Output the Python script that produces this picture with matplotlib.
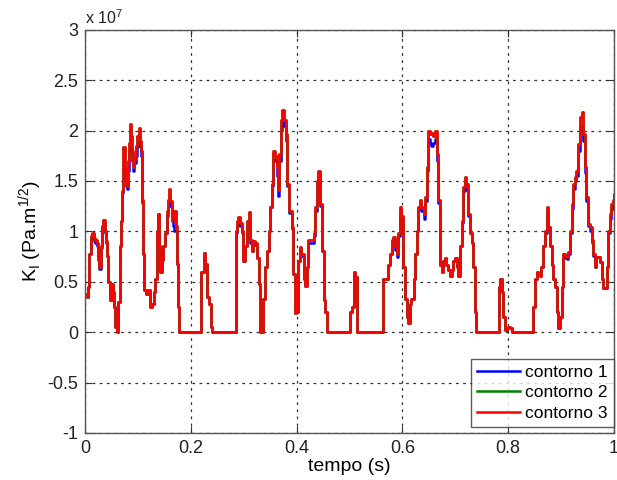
import matplotlib
matplotlib.use("Agg")
import matplotlib.pyplot as plt
from matplotlib.ticker import FuncFormatter, MultipleLocator

# time (s)
t = [0.000, 0.003, 0.006, 0.008, 0.011, 0.013, 0.016, 0.019, 0.022, 0.025,
     0.027, 0.030, 0.032, 0.034, 0.037, 0.039, 0.041, 0.044, 0.047, 0.050,
     0.052, 0.054, 0.057, 0.060, 0.063, 0.065, 0.067, 0.069, 0.071, 0.072,
     0.075, 0.077, 0.079, 0.081, 0.083, 0.085, 0.087, 0.089, 0.091, 0.093,
     0.096, 0.099, 0.102, 0.104, 0.106, 0.107, 0.109, 0.112, 0.116, 0.119,
     0.123, 0.127, 0.130, 0.132, 0.135, 0.137, 0.139, 0.142, 0.145, 0.148,
     0.151, 0.154, 0.156, 0.158, 0.161, 0.164, 0.166, 0.168, 0.171, 0.173,
     0.175, 0.178, 0.217, 0.220, 0.224, 0.227, 0.231, 0.235, 0.238, 0.240,
     0.284, 0.285, 0.288, 0.290, 0.293, 0.296, 0.299, 0.302, 0.306, 0.309,
     0.312, 0.315, 0.318, 0.321, 0.325, 0.328, 0.331, 0.334, 0.337, 0.340,
     0.343, 0.347, 0.350, 0.353, 0.356, 0.359, 0.362, 0.365, 0.367, 0.370,
     0.373, 0.376, 0.379, 0.382, 0.385, 0.391, 0.394, 0.397, 0.399, 0.401,
     0.403, 0.406, 0.409, 0.413, 0.416, 0.419, 0.422, 0.428, 0.432, 0.435,
     0.438, 0.441, 0.444, 0.447, 0.451, 0.454, 0.457, 0.498, 0.501, 0.505,
     0.508, 0.511, 0.514, 0.561, 0.564, 0.570, 0.573, 0.577, 0.580, 0.583,
     0.586, 0.589, 0.592, 0.595, 0.598, 0.602, 0.605, 0.608, 0.611, 0.614,
     0.617, 0.621, 0.624, 0.627, 0.630, 0.633, 0.636, 0.640, 0.643, 0.646,
     0.649, 0.652, 0.655, 0.658, 0.661, 0.665, 0.668, 0.671, 0.674, 0.677,
     0.680, 0.683, 0.686, 0.690, 0.693, 0.696, 0.699, 0.703, 0.706, 0.709,
     0.712, 0.715, 0.718, 0.721, 0.724, 0.728, 0.731, 0.734, 0.737, 0.740,
     0.780, 0.782, 0.785, 0.788, 0.791, 0.794, 0.797, 0.800, 0.803, 0.807,
     0.844, 0.847, 0.850, 0.854, 0.857, 0.860, 0.863, 0.866, 0.869, 0.873,
     0.876, 0.879, 0.882, 0.885, 0.889, 0.892, 0.895, 0.898, 0.901, 0.904,
     0.908, 0.911, 0.914, 0.917, 0.920, 0.923, 0.926, 0.929, 0.932, 0.936,
     0.939, 0.942, 0.945, 0.948, 0.951, 0.955, 0.958, 0.961, 0.964, 0.967,
     0.971, 0.974, 0.977, 0.980, 0.983, 0.986, 0.989, 0.992, 0.995, 0.998, 1.000]

# K_I in units of 1e7 Pa.m^1/2
k_c3 = [0.38, 0.35, 0.45, 0.78, 0.95, 0.98, 0.93, 0.91, 0.88, 0.75,
        0.65, 0.85, 1.05, 1.11, 1.00, 0.90, 0.76, 0.50, 0.32, 0.48,
        0.40, 0.25, 0.05, 0.00, 0.30, 0.85, 1.10, 1.40, 1.67, 1.84,
        1.62, 1.50, 1.45, 1.70, 1.88, 2.07, 1.95, 1.80, 1.64, 1.72,
        1.85, 1.95, 2.03, 1.90, 1.80, 1.31, 0.78, 0.42, 0.38, 0.42,
        0.25, 0.28, 0.40, 0.53, 1.00, 1.17, 0.85, 0.60, 0.72, 0.85,
        0.98, 1.20, 1.31, 1.42, 1.30, 1.15, 1.10, 1.20, 1.05, 0.68,
        0.25, 0.00, 0.00, 0.60, 0.79, 0.68, 0.35, 0.28, 0.05, 0.00,
        0.00, 1.00, 1.10, 1.14, 1.08, 1.00, 0.71, 0.85, 1.10, 1.19,
        0.91, 0.81, 0.90, 0.88, 0.74, 0.48, 0.00, 0.00, 0.33, 0.65,
        0.81, 1.00, 1.24, 1.47, 1.80, 1.75, 1.64, 1.41, 1.77, 2.10,
        2.20, 2.10, 1.97, 1.47, 1.20, 1.04, 0.58, 0.19, 0.53, 0.20,
        0.71, 0.84, 0.78, 0.53, 0.46, 0.65, 0.91, 0.91, 0.98, 1.24,
        1.50, 1.60, 1.27, 0.81, 0.32, 0.20, 0.00, 0.00, 0.20, 0.25,
        0.60, 0.55, 0.00, 0.00, 0.53, 0.53, 0.67, 0.78, 0.91, 0.94,
        0.85, 0.78, 0.98, 1.24, 1.15, 0.65, 0.33, 0.15, 0.09, 0.28,
        0.33, 0.53, 0.78, 1.00, 1.24, 1.31, 1.24, 1.17, 1.34, 1.64,
        2.00, 1.97, 1.98, 1.95, 2.00, 1.77, 1.31, 0.67, 0.60, 0.71,
        0.74, 0.67, 0.62, 0.56, 0.62, 0.71, 0.74, 0.65, 0.56, 0.85,
        1.10, 1.44, 1.54, 1.47, 1.17, 0.98, 0.88, 0.65, 0.20, 0.00,
        0.00, 0.45, 0.53, 0.40, 0.15, 0.02, 0.04, 0.05, 0.04, 0.00,
        0.00, 0.25, 0.53, 0.60, 0.58, 0.56, 0.65, 0.85, 1.00, 1.24,
        1.04, 0.85, 0.67, 0.53, 0.45, 0.20, 0.04, 0.15, 0.45, 0.78,
        0.76, 0.75, 0.80, 1.00, 1.27, 1.47, 1.54, 1.60, 1.87, 2.13,
        2.18, 1.97, 1.64, 1.34, 1.07, 1.04, 0.91, 0.78, 0.65, 0.75,
        0.75, 0.70, 0.53, 0.44, 0.44, 0.65, 1.00, 1.17, 1.27, 1.31, 1.37]

k_c1 = [0.38, 0.35, 0.45, 0.78, 0.93, 0.95, 0.90, 0.88, 0.85, 0.72,
        0.63, 0.83, 1.02, 1.08, 0.98, 0.88, 0.76, 0.50, 0.32, 0.48,
        0.40, 0.25, 0.05, 0.00, 0.30, 0.85, 1.10, 1.38, 1.40, 1.62,
        1.55, 1.45, 1.42, 1.60, 1.80, 1.84, 1.80, 1.70, 1.60, 1.68,
        1.75, 1.85, 1.90, 1.85, 1.75, 1.28, 0.78, 0.42, 0.38, 0.42,
        0.25, 0.28, 0.40, 0.53, 1.00, 1.17, 0.85, 0.60, 0.72, 0.85,
        0.98, 1.15, 1.25, 1.32, 1.25, 1.10, 1.05, 1.00, 1.00, 0.68,
        0.25, 0.00, 0.00, 0.60, 0.79, 0.68, 0.35, 0.28, 0.05, 0.00,
        0.00, 0.98, 1.05, 1.08, 1.05, 0.98, 0.71, 0.85, 1.05, 1.12,
        0.88, 0.81, 0.88, 0.86, 0.74, 0.48, 0.00, 0.00, 0.33, 0.65,
        0.81, 1.00, 1.24, 1.45, 1.72, 1.70, 1.55, 1.35, 1.70, 2.00,
        2.10, 2.05, 1.90, 1.45, 1.18, 1.02, 0.58, 0.19, 0.53, 0.20,
        0.71, 0.82, 0.76, 0.53, 0.46, 0.65, 0.88, 0.88, 0.95, 1.20,
        1.45, 1.55, 1.25, 0.81, 0.32, 0.20, 0.00, 0.00, 0.20, 0.25,
        0.60, 0.55, 0.00, 0.00, 0.53, 0.53, 0.67, 0.78, 0.90, 0.92,
        0.82, 0.75, 0.95, 1.18, 1.10, 0.65, 0.33, 0.15, 0.09, 0.28,
        0.33, 0.53, 0.78, 1.00, 1.22, 1.28, 1.20, 1.12, 1.30, 1.60,
        1.92, 1.88, 1.85, 1.88, 1.92, 1.70, 1.28, 0.67, 0.60, 0.71,
        0.74, 0.67, 0.62, 0.56, 0.62, 0.71, 0.74, 0.65, 0.56, 0.85,
        1.08, 1.40, 1.50, 1.42, 1.15, 0.98, 0.88, 0.65, 0.20, 0.00,
        0.00, 0.45, 0.53, 0.40, 0.15, 0.02, 0.04, 0.05, 0.04, 0.00,
        0.00, 0.25, 0.53, 0.60, 0.58, 0.56, 0.65, 0.85, 0.98, 1.20,
        1.04, 0.85, 0.67, 0.53, 0.45, 0.20, 0.04, 0.15, 0.45, 0.78,
        0.74, 0.73, 0.78, 0.98, 1.22, 1.42, 1.50, 1.55, 1.80, 2.00,
        2.05, 1.90, 1.58, 1.30, 1.05, 1.00, 0.88, 0.76, 0.65, 0.75,
        0.75, 0.70, 0.53, 0.44, 0.44, 0.65, 0.98, 1.12, 1.22, 1.28, 1.34]

k_c2 = list(k_c3)  # visually identical to contorno 3

labels = ["contorno 1", "contorno 2", "contorno 3"]
colors = ["#0000ff", "#008000", "#ff0000"]
scale = 1e7

plt.rcParams['font.family'] = ['Liberation Sans', 'DejaVu Sans']

fig = plt.figure(figsize=(6.17, 4.80), dpi=100)
ax = fig.add_axes([0.138, 0.098, 0.857, 0.840])

for vals, lab, col in zip([k_c1, k_c2, k_c3], labels, colors):
    ax.plot(t, [v * scale for v in vals], drawstyle='steps-post',
            color=col, lw=1.8, label=lab)

ax.set_xlim(0, 1)
ax.set_ylim(-1e7, 3e7)
ax.xaxis.set_major_locator(MultipleLocator(0.2))
ax.yaxis.set_major_locator(MultipleLocator(0.5e7))
ax.xaxis.set_major_formatter(FuncFormatter(lambda v, p: f"{v:g}"))
ax.yaxis.set_major_formatter(FuncFormatter(lambda v, p: f"{v/scale:g}"))

ax.grid(True, color='#333333', linestyle=(0, (2.2, 3.5)), lw=0.9)
ax.tick_params(direction='in', length=5, top=True, right=True,
               labelsize=13, colors='#333333', labelcolor='#222222', pad=5)
for s in ax.spines.values():
    s.set_color('#555555')
    s.set_linewidth(1.0)

ax.set_xlabel('tempo (s)', fontsize=14, labelpad=1)
ax.set_ylabel(r'K$_\mathregular{I}$ (Pa.m$^\mathregular{1/2}$)', fontsize=14, labelpad=2)
ax.text(0.0, 1.008, r'x 10$^\mathregular{7}$', transform=ax.transAxes,
        fontsize=11.5, ha='left', va='bottom', color='#222222')

leg = ax.legend(loc='lower right', bbox_to_anchor=(1.0, 0.015), fontsize=12.5,
                frameon=True, fancybox=False, borderaxespad=0.0,
                handlelength=2.5, handletextpad=0.3, labelspacing=0.3,
                borderpad=0.35)
leg.get_frame().set_edgecolor('#333333')
leg.get_frame().set_linewidth(1.0)
for h in leg.get_lines():
    h.set_linewidth(1.8)

fig.savefig('out.png', dpi=100)
